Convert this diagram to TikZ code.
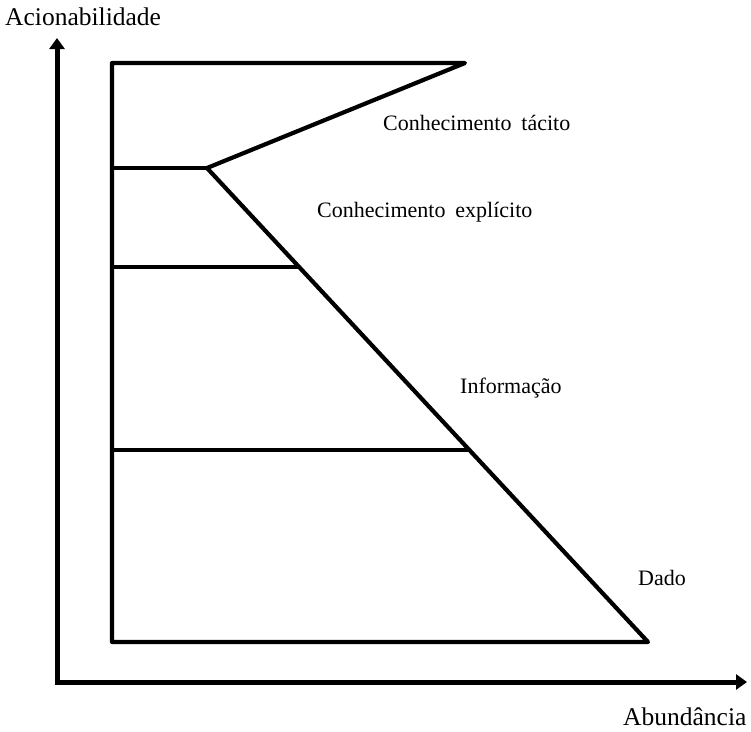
\documentclass[tikz,border=0pt]{standalone}
\usepackage{fontspec}
\setmainfont{Liberation Serif}
\usetikzlibrary{arrows.meta}
\begin{document}
\begin{tikzpicture}[x=1pt,y=-1pt,
  axis/.style={line width=5pt,-{Triangle[length=11pt,width=15pt]}},
  level/.style={line width=4.2pt,line join=round},
  lbl/.style={anchor=base west,inner sep=0pt,font=\fontsize{22}{24}\selectfont},
  axlbl/.style={anchor=base west,inner sep=0pt,font=\fontsize{25.5}{28}\selectfont}]
  \useasboundingbox (0,0) rectangle (751,731);
  % axes
  \coordinate (origin) at (57,682);
  \coordinate (ytop) at (57,38);
  \coordinate (xend) at (747,682);
  \draw[axis] (origin) -- (ytop);
  \draw[axis] (54.5,682) -- (xend);
  % pyramid corners
  \coordinate (tl) at (112,63);
  \coordinate (tr) at (465,63);
  \coordinate (k) at (207,168);
  \coordinate (bl) at (112,642);
  \coordinate (br) at (648,642);
  \draw[level] (tl) -- (tr) -- (k) -- (br) -- (bl) -- cycle;
  % level dividers
  \coordinate (l1) at (112,168);
  \coordinate (l2) at (112,267);
  \coordinate (r2) at (299,267);
  \coordinate (l3) at (112,450);
  \coordinate (r3) at (469,450);
  \draw[level] (l1) -- (k);
  \draw[level] (l2) -- (r2);
  \draw[level] (l3) -- (r3);
  % labels
  \node[axlbl] (ylab) at (5,25) {Acionabilidade};
  \node[axlbl] (xlab) at (623,725) {Abundância};
  \node[lbl] (tacit) at (383,130) {Conhecimento\hspace{0.45em}tácito};
  \node[lbl] (explicit) at (317,217) {Conhecimento\hspace{0.45em}explícito};
  \node[lbl] (info) at (460,393) {Informação};
  \node[lbl] (data) at (638,585) {Dado};
\end{tikzpicture}
\end{document}
